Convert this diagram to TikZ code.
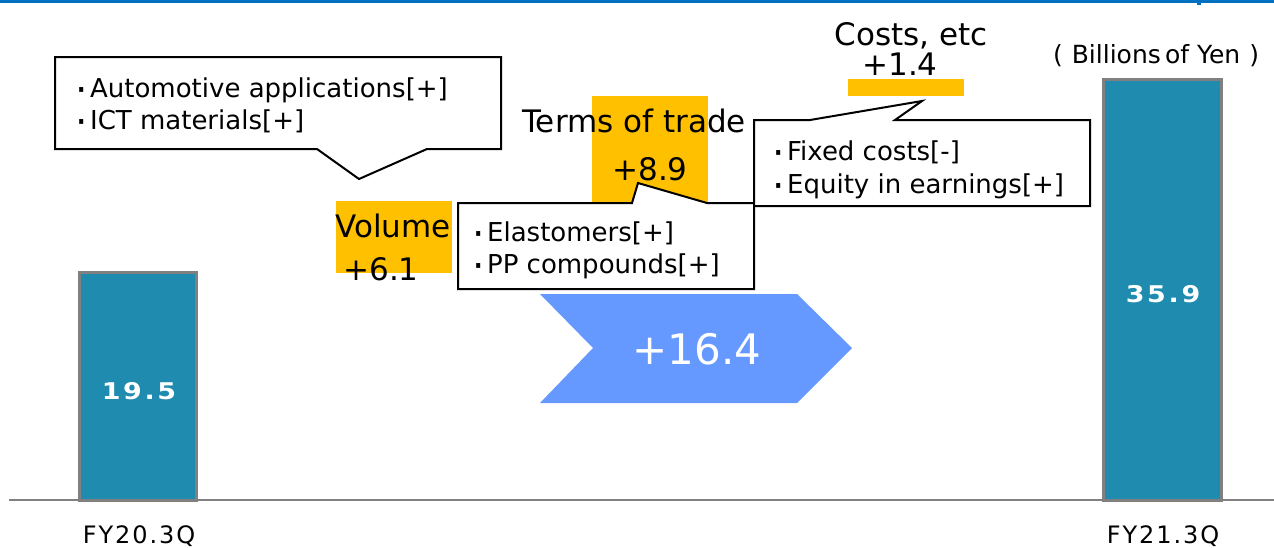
\documentclass[tikz,border=0pt]{standalone}
\usepackage{fontspec}
\setmainfont{DejaVu Sans}
\newfontfamily\spacedbold[LetterSpace=10]{DejaVu Sans Bold}
\newfontfamily\spacedfont[LetterSpace=8]{DejaVu Sans}
\definecolor{barblue}{RGB}{31,140,175}
\definecolor{bargray}{RGB}{128,128,128}
\definecolor{hiorange}{RGB}{255,192,0}
\definecolor{arrowblue}{RGB}{102,153,255}
\definecolor{topblue}{RGB}{0,112,192}
\newcommand{\pt}[1]{\fontsize{#1}{#1}\selectfont}
\newcommand{\bul}{\makebox[0.65em][c]{\raisebox{-0.24em}[0.4em][0pt]{\scalebox{1.5}{·}}}}
\newcommand{\widebox}[1]{\scalebox{1.17}[1]{#1}}
\tikzset{
  bar/.style={fill=barblue, draw=bargray, line width=3pt},
  hilite/.style={fill=hiorange, draw=none},
  callout/.style={fill=white, draw=black, line width=2pt, line join=miter},
  bullettext/.style={anchor=base west, inner sep=0pt, font=\pt{26}},
  heading/.style={anchor=base, inner sep=0pt, font=\pt{31}},
  barval/.style={anchor=base, inner sep=0pt, text=white, font=\spacedbold\pt{23}},
  axislabel/.style={anchor=base, inner sep=0pt, font=\spacedfont\pt{24}},
}
\begin{document}
\begin{tikzpicture}[x=1pt,y=-1pt]
\useasboundingbox (0,0) rectangle (1274,547);

% header rule
\fill[topblue] (0,0) rectangle (1274,3);
\fill[topblue] (1197,0) rectangle (1201,5);

% axis line
\draw[bargray, line width=2.5pt] (9,500) -- (1274,500);

% start and end bars
\draw[bar] (79,272) rectangle (196,500);
\node[barval] (v1) at (139,399) {\widebox{19.5}};
\draw[bar] (1103,79) rectangle (1221,500);
\node[barval] (v2) at (1163,302) {\widebox{35.9}};
\node[axislabel] (l1) at (139,543) {FY20.3Q};
\node[axislabel] (l2) at (1163,543) {FY21.3Q};
\node[anchor=base, inner sep=0pt, font=\pt{25}] (unit) at (1156,63)
  {(\hspace{9pt}Billions\,of Yen\hspace{9pt})};

% highlight blocks
\fill[hilite] (336,201) rectangle (452,273);
\fill[hilite] (592,96) rectangle (708,202);
\fill[hilite] (848,79) rectangle (964,96);

% volume
\node[heading] (vol) at (393,237) {Volume};
\node[heading] (volv) at (381,280) {+6.1};

% terms of trade
\node[heading] (tot) at (634,132) {Terms of trade};
\node[heading] (totv) at (650,180) {+8.9};

% costs
\node[heading] (cost) at (911,45) {Costs, etc};
\node[heading] (costv) at (900,75) {+1.4};

% callout: volume drivers
\draw[callout] (55,57) -- (501,57) -- (501,149) -- (427,149) -- (359,179)
  -- (317,149) -- (55,149) -- cycle;
\node[bullettext] (c1a) at (73,97) {\bul Automotive applications[+]};
\node[bullettext] (c1b) at (73,129) {\bul ICT materials[+]};

% callout: terms of trade drivers
\draw[callout] (458,203) -- (632,203) -- (638,183) -- (707,203) -- (754,203)
  -- (754,289) -- (458,289) -- cycle;
\node[bullettext] (c2a) at (470,241) {\bul Elastomers[+]};
\node[bullettext] (c2b) at (470,273) {\bul PP compounds[+]};

% callout: cost drivers
\draw[callout] (754,120) -- (810,120) -- (922,101) -- (895,120) -- (1090,120)
  -- (1090,206) -- (754,206) -- cycle;
\node[bullettext] (c3a) at (770,160) {\bul Fixed costs[-]};
\node[bullettext] (c3b) at (770,193) {\bul Equity in earnings[+]};

% total change chevron
\fill[arrowblue] (540,294) -- (797,294) -- (852,348) -- (797,403) -- (540,403)
  -- (593,348) -- cycle;
\node[inner sep=0pt, text=white, font=\pt{42}] (tot2) at (697,349) {+16.4};
\end{tikzpicture}
\end{document}
